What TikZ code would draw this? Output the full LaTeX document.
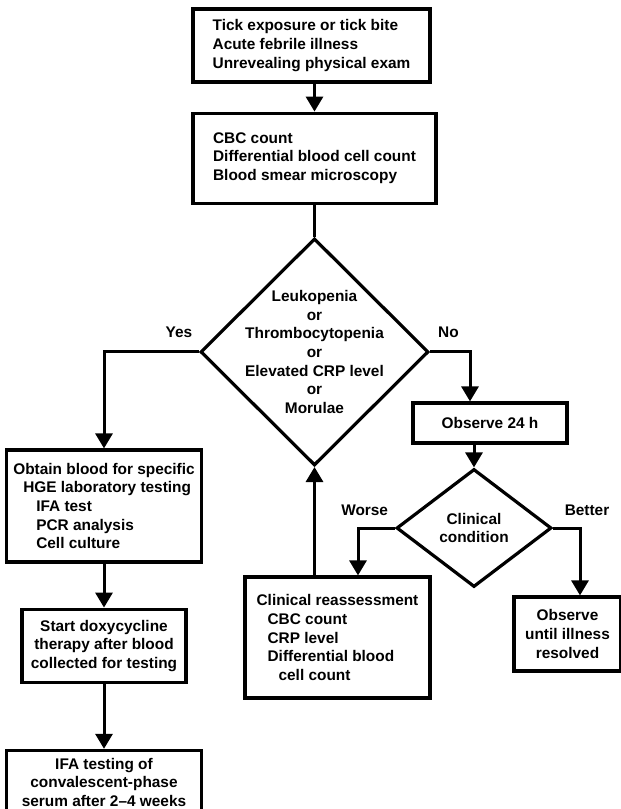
\documentclass[tikz,border=0pt]{standalone}
\usepackage{fontspec}
\setmainfont{Liberation Sans}
\usepackage{tikz}
\usetikzlibrary{shapes.geometric,arrows.meta,positioning,calc}

\begin{document}
\begin{tikzpicture}[
            x=1pt, y=1pt,
            node distance=30pt,
            txt/.style={font=\bfseries\fontsize{15.4}{18.6}\selectfont},
            box/.style={rectangle, draw, line width=3.2pt, txt, inner sep=4pt},
            decision/.style={diamond, draw, line width=3.2pt, txt, align=center},
            lbl/.style={txt, inner sep=0pt, text depth=0pt},
            line/.style={line width=3pt},
            arrow/.style={line, -{Triangle[width=17pt,length=15pt]}}
        ]
            \path[use as bounding box, fill=white] (0,0) rectangle (621,-809);

            \node[box, align=left, minimum width=237pt, minimum height=73pt] (exposure) at (311.5,-45.5) {Tick exposure or tick bite\\Acute febrile illness\\Unrevealing physical exam};
            \node[box, align=left, minimum width=243pt, minimum height=90pt, below=28pt of exposure.south west, anchor=north west] (cbc) {CBC count\\Differential blood cell count\\Blood smear microscopy};
            \node[decision, inner sep=-12pt, minimum width=228pt, minimum height=227pt, below=32pt of cbc] (decide) {Leukopenia\\or\\Thrombocytopenia\\or\\Elevated CRP level\\or\\Morulae};

            \node[box, align=left, minimum width=195pt, minimum height=112pt] (obtain) at (104,-506) {Obtain blood for specific\\\hspace*{10pt}HGE laboratory testing\\\hspace*{23pt}IFA test\\\hspace*{23pt}PCR analysis\\\hspace*{23pt}Cell culture};
            \node[box, align=center, minimum width=164pt, minimum height=73pt, below=44pt of obtain] (doxy) {Start doxycycline\\therapy after blood\\collected for testing};
            \node[box, align=center, minimum width=195pt, minimum height=64pt, below=65pt of doxy] (ifa) {IFA testing of\\convalescent-phase\\serum after 2--4 weeks};

            \node[box, align=center, minimum width=154pt, minimum height=40pt] (observe) at (490,-423) {Observe 24 h};
            \node[decision, inner sep=2pt, minimum width=155pt, minimum height=118pt] (condition) at (474,-528) {Clinical\\condition};
            \node[box, align=left, minimum width=185pt, minimum height=121pt] (reassess) at (337.5,-637.5) {Clinical reassessment\\\hspace*{11pt}CBC count\\\hspace*{11pt}CRP level\\\hspace*{11pt}Differential blood\\\hspace*{22pt}cell count};
            \node[box, align=center, minimum width=107pt, minimum height=74pt] (resolved) at (567.5,-634) {Observe\\until illness\\resolved};

            \draw[arrow] (exposure.south -| cbc.north) -- (cbc.north);
            \draw[line] (cbc) -- (decide);
            \draw[arrow] (decide.west) -| node[lbl, pos=0.105, above=13pt] {Yes} (obtain.north);
            \draw[arrow] (decide.east) -| node[lbl, pos=0.23, above=13pt] {No} ([xshift=-20pt]observe.north);
            \draw[arrow] (obtain) -- (doxy);
            \draw[arrow] (doxy) -- (ifa);
            \draw[arrow] (observe.south -| condition.north) -- (condition.north);
            \draw[arrow] (condition.west) -| node[lbl, pos=0.41, above=11pt] {Worse} ([xshift=20.5pt]reassess.north);
            \draw[arrow] (condition.east) -| node[lbl, pos=0.5, above=11pt, xshift=7pt] {Better} ([xshift=12.5pt]resolved.north);
            \draw[arrow] (reassess.north -| decide.south) -- (decide.south);
        \end{tikzpicture}
\end{document}
